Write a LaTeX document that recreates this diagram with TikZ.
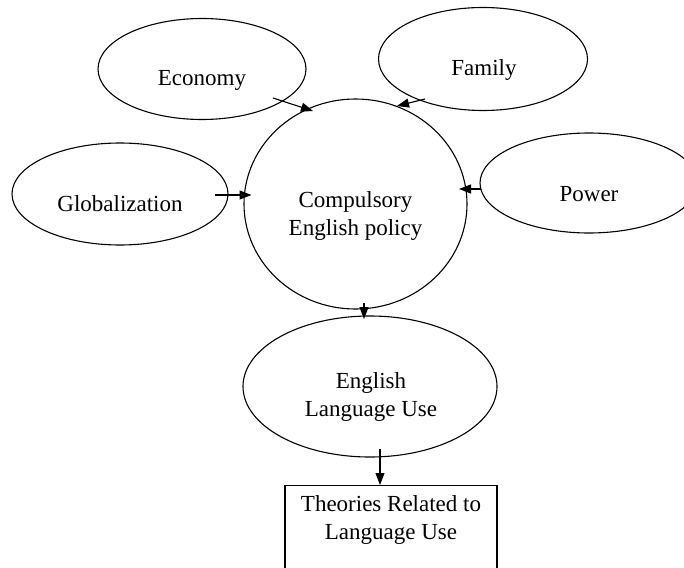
\documentclass[tikz,border=0pt]{standalone}
\usepackage{fontspec}
\setmainfont{Liberation Serif}
\usetikzlibrary{shapes.geometric,arrows.meta}
\begin{document}
\begin{tikzpicture}[x=1pt,y=-1pt,
  ell/.style={draw, ellipse, line width=1.1pt, inner sep=0pt},
  box/.style={draw, rectangle, line width=1.1pt, inner sep=0pt},
  txt/.style={font=\fontsize{23}{27.5}\selectfont, align=center, inner sep=0pt},
  arr/.style={-{Triangle[length=12pt,width=9pt]}, line width=1.1pt}]
\useasboundingbox (0,0) rectangle (684,567);
\clip (0,0) rectangle (684,567);
% shapes
\node[ell, minimum width=208pt, minimum height=101pt] (eco) at (202,69) {};
\node[ell, minimum width=209pt, minimum height=103pt] (fam) at (483,59) {};
\node[ell, minimum width=216pt, minimum height=102pt] (glob) at (120,194) {};
\node[ell, minimum width=218pt, minimum height=100pt] (pow) at (589,183) {};
\node[ell, minimum width=223pt, minimum height=210pt] (circ) at (355.5,204) {};
\node[ell, minimum width=254pt, minimum height=141pt] (elu) at (370,386.5) {};
\node[box, minimum width=212pt, minimum height=135pt, anchor=north] (th) at (391,485) {};
% texts
\node[txt] (ecot) at (202,80) {Economy};
\node[txt] (famt) at (484,70) {Family};
\node[txt] (globt) at (120,204) {Globalization};
\node[txt] (powt) at (589,194) {Power};
\node[txt] (circt) at (355.5,216) {Compulsory\\English policy};
\node[txt] (elut) at (371,397) {English\\Language Use};
\node[txt] (tht) at (391,520) {Theories Related to\\Language Use};
% connectors
\draw[arr] ([shift={(71,29)}]eco.center) -- ([shift={(-42.5,-93)}]circ.center);
\draw[arr] ([shift={(-58,40)}]fam.center) -- ([shift={(41.5,-98)}]circ.center);
\draw[arr] ([shift={(95,1)}]glob.center) -- ([shift={(-104,-9)}]circ.center);
\draw[arr] ([shift={(-108,6)}]pow.center) -- ([shift={(103.5,-15)}]circ.center);
\draw[arr] ([shift={(8.5,99)}]circ.center) -- ([shift={(-6,-67.5)}]elu.center);
\draw[arr] ([shift={(10,62)}]elu.center) -- ([xshift=-11pt]th.north);
\end{tikzpicture}
\end{document}
